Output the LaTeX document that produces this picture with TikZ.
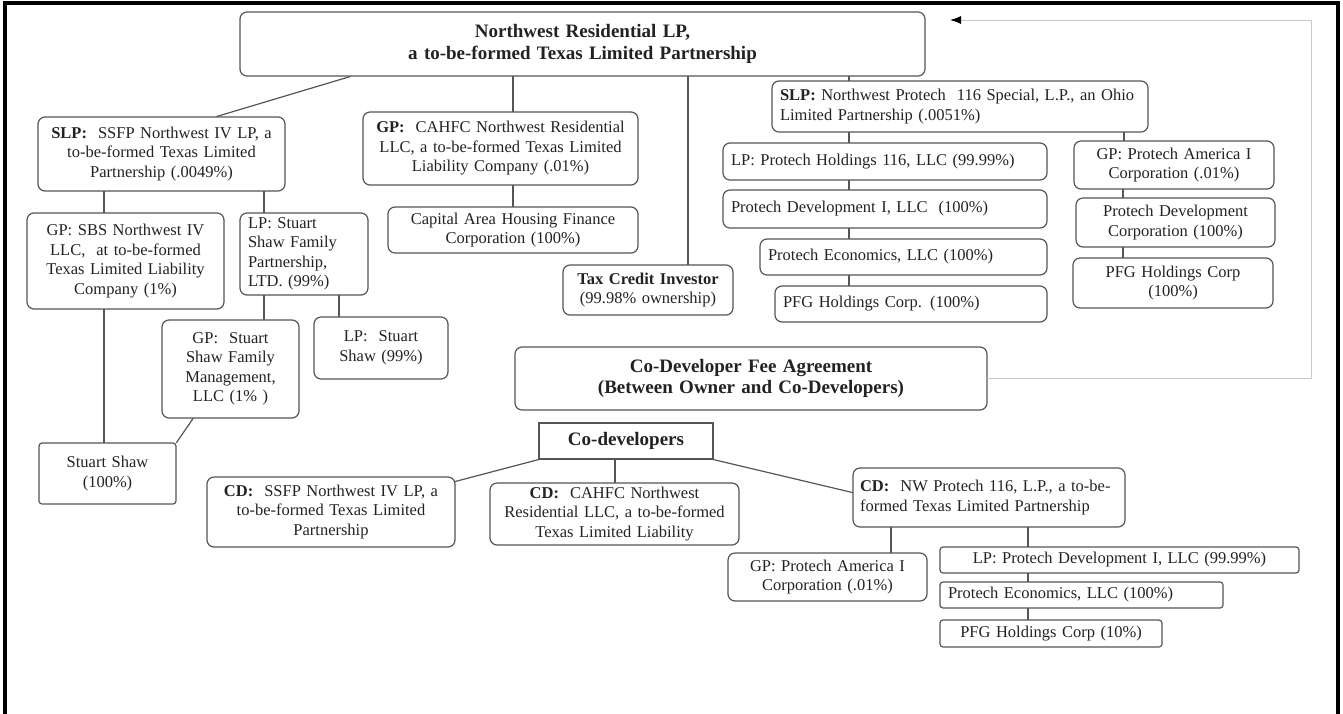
\documentclass[tikz,border=0pt]{standalone}
\usepackage{fontspec}
\setmainfont{Liberation Serif}
\usetikzlibrary{arrows.meta}
\tikzset{
	orgbox/.style={draw=custcol_55_55_55, line width=1.2pt, rounded corners=7pt, inner xsep=8pt, inner ysep=2pt, text=custcol_22_22_22, font=\fontsize{16.5}{19.5}\selectfont},
	headbox/.style={orgbox, font=\bfseries\fontsize{19}{21.5}\selectfont},
	orgline/.style={draw=custcol_55_55_55, line width=1.2pt},
}
\begin{document}
\begin{tikzpicture}[x=1pt,y=-1pt,line cap=rect]
	\definecolor{custcol_0_0_0}{RGB}{0, 0, 0}
	\definecolor{custcol_22_22_22}{RGB}{34, 34, 34}
	\definecolor{custcol_55_55_55}{RGB}{85, 85, 85}
	\definecolor{custcol_c8_c8_c8}{RGB}{200, 200, 200}
	\useasboundingbox (0,0) rectangle (1343,713);
	\draw [line width=3.5pt, custcol_0_0_0 ]  (5,713) -- (5,3) -- (1338,3) -- (1338,713) ;
	% owner
	\node[headbox, text width=669pt, minimum height=64pt, align=center] (top) at (582.5,44) {Northwest Residential LP,\\ a to-be-formed Texas Limited Partnership};
	% left branch
	\node[orgbox, text width=231pt, minimum height=74pt, align=center] (slpssfp) at (161.5,154) {\textbf{SLP:}\ \ SSFP Northwest IV LP, a\\ to-be-formed Texas Limited\\ Partnership (.0049\%)};
	\node[orgbox, text width=181pt, minimum height=96pt, align=center] (gpsbs) at (125.5,261) {GP: SBS Northwest IV\\ LLC,\ \ at to-be-formed\\ Texas Limited Liability\\ Company (1\%)};
	\node[orgbox, text width=112pt, minimum height=82pt, align=left] (lpssfam) at (304,254) {LP: Stuart\\ Shaw Family\\ Partnership,\\ LTD. (99\%)};
	\node[orgbox, text width=121pt, minimum height=98pt, align=center] (gpssmgmt) at (230.5,369) {GP:\ \ Stuart\\ Shaw Family\\ Management,\\ LLC (1\% )};
	\node[orgbox, text width=118pt, minimum height=62pt, align=center] (lpss) at (381,348) {LP:\ \ Stuart\\ Shaw (99\%)};
	\node[orgbox, rounded corners=3pt, text width=121pt, minimum height=61pt, align=center] (ss) at (107.5,473.5) {Stuart Shaw\\ (100\%)};
	% middle branch
	\node[orgbox, text width=259pt, minimum height=73pt, align=center] (gpcahfc) at (500.5,148.5) {\textbf{GP:}\ \ CAHFC Northwest Residential\\ LLC, a to-be-formed Texas Limited\\ Liability Company (.01\%)};
	\node[orgbox, text width=234pt, minimum height=46pt, align=center] (cahfc) at (513,230) {Capital Area Housing Finance\\ Corporation (100\%)};
	\node[orgbox, text width=154pt, minimum height=50pt, align=center] (taxcredit) at (648,290) {\textbf{Tax Credit Investor}\\ (99.98\% ownership)};
	% right branch
	\node[orgbox, text width=360pt, minimum height=51pt, align=left] (slpnwp) at (960,106.5) {\textbf{SLP:} Northwest Protech\ \ 116 Special, L.P., an Ohio\\ Limited Partnership (.0051\%)};
	\node[orgbox, text width=308pt, minimum height=37pt, align=left] (lpph) at (885,161.5) {LP: Protech Holdings 116, LLC (99.99\%)};
	\node[orgbox, text width=308pt, minimum height=38pt, align=left] (pdev1) at (885,209) {Protech Development I, LLC\ \ (100\%)};
	\node[orgbox, text width=271pt, minimum height=36pt, align=left] (pecon) at (903.5,257) {Protech Economics, LLC (100\%)};
	\node[orgbox, text width=256pt, minimum height=36pt, align=left] (pfg1) at (911,304) {PFG Holdings Corp. (100\%)};
	\node[orgbox, text width=184pt, minimum height=48pt, align=center] (gppa1) at (1174,165) {GP: Protech America I\\ Corporation (.01\%)};
	\node[orgbox, text width=183pt, minimum height=49pt, align=center] (pdevcorp) at (1175.5,222.5) {Protech Development\\ Corporation (100\%)};
	\node[orgbox, text width=184pt, minimum height=50pt, align=center] (pfg2) at (1173,283) {PFG Holdings Corp\\ (100\%)};
	% co-developers
	\node[headbox, text width=456pt, minimum height=63pt, align=center] (cofee) at (751,378.5) {Co-Developer Fee Agreement\\ (Between Owner and Co-Developers)};
	\node[headbox, sharp corners, text width=158pt, minimum height=36pt, align=center] (codev) at (626,441) {Co-developers};
	\node[orgbox, text width=232pt, minimum height=70pt, align=center] (cdssfp) at (331,512) {\textbf{CD:}\ \ SSFP Northwest IV LP, a\\ to-be-formed Texas Limited\\ Partnership};
	\node[orgbox, text width=233pt, minimum height=62pt, align=center] (cdcahfc) at (614.5,514) {\textbf{CD:}\ \ CAHFC Northwest\\ Residential LLC, a to-be-formed\\ Texas Limited Liability};
	\node[orgbox, text width=258pt, minimum height=59pt, inner xsep=7pt, align=left] (cdnwp) at (989,497.5) {\textbf{CD:}\ \ NW Protech 116, L.P., a to-be-\\ formed Texas Limited Partnership};
	\node[orgbox, text width=183pt, minimum height=48pt, align=center] (gppa2) at (827.5,577) {GP: Protech America I\\ Corporation (.01\%)};
	\node[orgbox, rounded corners=3pt, text width=343pt, minimum height=26pt, align=center] (lppd) at (1119.5,560) {LP: Protech Development I, LLC (99.99\%)};
	\node[orgbox, rounded corners=3pt, text width=267pt, minimum height=26pt, align=left] (pecon2) at (1081.5,595) {Protech Economics, LLC (100\%)};
	\node[orgbox, rounded corners=3pt, text width=206pt, minimum height=27pt, align=center] (pfg3) at (1051,633.5) {PFG Holdings Corp (10\%)};
	% connectors
	\draw [orgline] (350,0 |- top.south) -- (217,0 |- slpssfp.north) ;
	\draw [orgline] (513,0 |- top.south) -- (513,0 |- gpcahfc.north) ;
	\draw [orgline] (688,0 |- top.south) -- (688,0 |- taxcredit.north) ;
	\draw [orgline] (849,0 |- top.south) -- (849,0 |- slpnwp.north) ;
	\draw [orgline] (104,0 |- slpssfp.south) -- (104,0 |- gpsbs.north) ;
	\draw [orgline] (264,0 |- slpssfp.south) -- (264,0 |- lpssfam.north) ;
	\draw [orgline] (104,0 |- gpsbs.south) -- (104,0 |- ss.north) ;
	\draw [orgline] (264,0 |- lpssfam.south) -- (264,0 |- gpssmgmt.north) ;
	\draw [orgline] (339,0 |- lpssfam.south) -- (339,0 |- lpss.north) ;
	\draw [orgline] (193,0 |- gpssmgmt.south) -- (ss.north east) ;
	\draw [orgline] (513,0 |- gpcahfc.south) -- (513,0 |- cahfc.north) ;
	\draw [orgline] (849,0 |- slpnwp.south) -- (849,0 |- lpph.north) ;
	\draw [orgline] (1124,0 |- slpnwp.south) -- (1124,0 |- gppa1.north) ;
	\draw [orgline] (849,0 |- lpph.south) -- (849,0 |- pdev1.north) ;
	\draw [orgline] (849,0 |- pdev1.south) -- (849,0 |- pecon.north) ;
	\draw [orgline] (849,0 |- pecon.south) -- (849,0 |- pfg1.north) ;
	\draw [orgline] (1123,0 |- gppa1.south) -- (1123,0 |- pdevcorp.north) ;
	\draw [orgline] (1123,0 |- pdevcorp.south) -- (1123,0 |- pfg2.north) ;
	\coordinate (feetip) at (950,20);
	\draw [line width=1pt, custcol_c8_c8_c8, -{Latex[length=11pt,width=8pt,color=custcol_0_0_0]}] (cofee.east) -- (1311,0 |- cofee.east) -- (1311,0 |- feetip) -- (feetip) ;
	\draw [orgline] (codev.south west) -- ([yshift=-5pt]cdssfp.north east) ;
	\draw [orgline] (615,0 |- codev.south) -- (615,0 |- cdcahfc.north) ;
	\draw [orgline] (codev.south east) -- ([yshift=5pt]cdnwp.west) ;
	\draw [orgline] (891,0 |- cdnwp.south) -- (891,0 |- gppa2.north) ;
	\draw [orgline] (1028,0 |- cdnwp.south) -- (1028,0 |- lppd.north) ;
	\draw [orgline] (1028,0 |- lppd.south) -- (1028,0 |- pecon2.north) ;
	\draw [orgline] (1028,0 |- pecon2.south) -- (1028,0 |- pfg3.north) ;
\end{tikzpicture}
\end{document}
